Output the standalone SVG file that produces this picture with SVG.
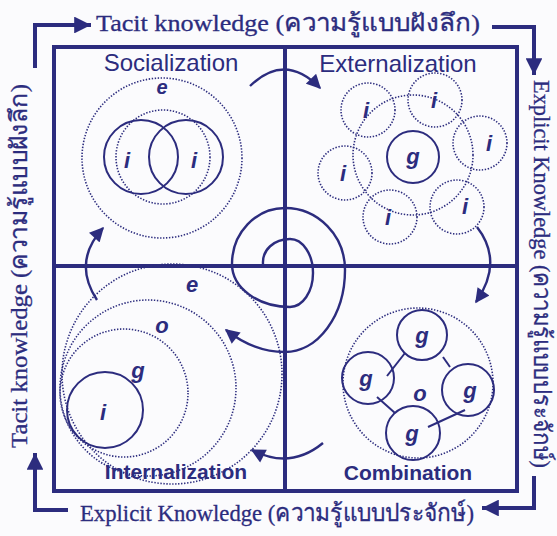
<svg xmlns="http://www.w3.org/2000/svg" width="557" height="536" viewBox="0 0 557 536">
<defs>
<style>
.frame{stroke:#2c2c7e;stroke-width:4;fill:none}
.loop{stroke:#2c2c7e;stroke-width:4;fill:none;stroke-linejoin:miter}
.dot{stroke:#2c2c7e;stroke-width:1.6;fill:none;stroke-dasharray:1.4 1.6}
.solid{stroke:#2c2c7e;stroke-width:2;fill:none}
.arc{stroke:#2c2c7e;stroke-width:2.4;fill:none}
.outer{font-family:"Liberation Serif","DejaVu Serif",serif;font-size:24px;fill:#2c2c7e;stroke:#2c2c7e;stroke-width:0.3}
.title{font-family:"Liberation Sans",Arial,sans-serif;font-size:24px;fill:#2c2c7e}
.btitle{font-family:"Liberation Sans",Arial,sans-serif;font-size:21px;font-weight:bold;fill:#2c2c7e}
.lbl{font-family:"Liberation Sans",Arial,sans-serif;font-size:22px;font-weight:bold;font-style:italic;fill:#2c2c7e;text-anchor:middle}
</style>
<marker id="big" viewBox="0 0 10 10" refX="10" refY="5" markerWidth="4.2" markerHeight="4.2" orient="auto" markerUnits="strokeWidth">
<path d="M0,0 L10,5 L0,10 Z" fill="#2c2c7e"/>
</marker>
<marker id="ah" viewBox="0 0 10 10" refX="9" refY="5" markerWidth="6.5" markerHeight="6" orient="auto" markerUnits="strokeWidth">
<path d="M0,0 L10,5 L0,10 Z" fill="#2c2c7e"/>
</marker>
</defs>
<rect width="557" height="536" fill="#fbfbfd"/>

<g id="outer-loop">
<path class="loop" d="M35,68 L35,25 L91,25" marker-end="url(#big)"/>
<path class="loop" d="M492,27 L534,27 L534,75" marker-end="url(#big)"/>
<path class="loop" d="M534,476 L534,508 L482,508" marker-end="url(#big)"/>
<path class="loop" d="M68,510 L35,510 L35,453" marker-end="url(#big)"/>
<text class="outer" x="96" y="31" textLength="384" lengthAdjust="spacingAndGlyphs">Tacit knowledge (ความรู้แบบฝังลึก)</text>
<text class="outer" transform="translate(534,80) rotate(90)" textLength="388" lengthAdjust="spacingAndGlyphs">Explicit Knowledge (ความรู้แบบประจักษ์)</text>
<text class="outer" x="80" y="521" textLength="394" lengthAdjust="spacingAndGlyphs">Explicit Knowledge (ความรู้แบบประจักษ์)</text>
<text class="outer" transform="translate(27,448) rotate(-90)" textLength="364" lengthAdjust="spacingAndGlyphs">Tacit knowledge (ความรู้แบบฝังลึก)</text>
</g>

<g id="frame">
<rect class="frame" x="54" y="47" width="463" height="444"/>
<line class="frame" x1="285" y1="47" x2="285" y2="491"/>
<line class="frame" x1="54" y1="266" x2="517" y2="266"/>
</g>

<g id="socialization">
<text class="title" x="171" y="71" text-anchor="middle">Socialization</text>
<circle class="dot" cx="162" cy="158" r="80"/>
<circle class="dot" cx="163" cy="157" r="47"/>
<circle class="solid" cx="141" cy="157" r="37"/>
<circle class="solid" cx="186" cy="157" r="37"/>
<text class="lbl" x="162" y="94" style="font-size:20px">e</text>
<text class="lbl" x="127" y="168">i</text>
<text class="lbl" x="194" y="168">i</text>
</g>

<g id="externalization">
<text class="title" x="398" y="72" text-anchor="middle">Externalization</text>
<circle class="dot" cx="413" cy="155" r="60"/>
<circle class="solid" cx="413" cy="157" r="26"/>
<text class="lbl" x="413" y="164">g</text>
<circle class="dot" cx="368" cy="110" r="27"/>
<circle class="dot" cx="435" cy="100" r="27"/>
<circle class="dot" cx="480" cy="143" r="27"/>
<circle class="dot" cx="457" cy="207" r="27"/>
<circle class="dot" cx="390" cy="217" r="27"/>
<circle class="dot" cx="345" cy="173" r="27"/>
<text class="lbl" x="366" y="118">i</text>
<text class="lbl" x="434" y="108">i</text>
<text class="lbl" x="489" y="151">i</text>
<text class="lbl" x="465" y="214">i</text>
<text class="lbl" x="388" y="225">i</text>
<text class="lbl" x="343" y="181">i</text>
</g>

<g id="internalization">
<circle class="dot" cx="172" cy="374" r="110"/>
<circle class="dot" cx="148" cy="388" r="88"/>
<circle class="dot" cx="124" cy="393" r="64"/>
<circle class="solid" cx="105" cy="410" r="38"/>
<text class="lbl" x="192" y="292">e</text>
<text class="lbl" x="162" y="333">o</text>
<text class="lbl" x="138" y="378">g</text>
<text class="lbl" x="103" y="420">i</text>
<text class="btitle" x="176" y="479" text-anchor="middle">Internalization</text>
</g>

<g id="combination">
<circle class="dot" cx="418" cy="383" r="75"/>
<circle class="solid" cx="422" cy="335" r="25"/>
<circle class="solid" cx="368" cy="378" r="26"/>
<circle class="solid" cx="468" cy="390" r="26"/>
<circle class="solid" cx="413" cy="433" r="27"/>
<line class="solid" x1="405" y1="353" x2="387" y2="376"/>
<line class="solid" x1="443" y1="357" x2="450" y2="367"/>
<line class="solid" x1="377" y1="397" x2="395" y2="413"/>
<line class="solid" x1="465" y1="410" x2="428" y2="427"/>
<text class="lbl" x="422" y="343">g</text>
<text class="lbl" x="366" y="386">g</text>
<text class="lbl" x="470" y="398">g</text>
<text class="lbl" x="412" y="441">g</text>
<text class="lbl" x="420" y="401">o</text>
<text class="btitle" x="408" y="480" text-anchor="middle">Combination</text>
</g>

<g id="connectors">
<path class="arc" d="M250,86 Q285,52 320,88" marker-end="url(#ah)"/>
<path class="arc" d="M477,227 Q504,262 476,302" marker-end="url(#ah)"/>
<path class="arc" d="M323,443 Q290,470 252,450" marker-end="url(#ah)"/>
<path class="arc" d="M97,300 Q72,262 103,228" marker-end="url(#ah)"/>
<path class="arc" d="M263,264 C262,250 274,239 290,239 A23,34 0 0 1 290,307 A58,43 0 0 1 232,264 A53,56 0 0 1 285,208 A60,62 0 0 1 345,270 A60,82 0 0 1 285,352 C265,352 245,345 226,330" marker-end="url(#ah)"/>
</g>
</svg>
